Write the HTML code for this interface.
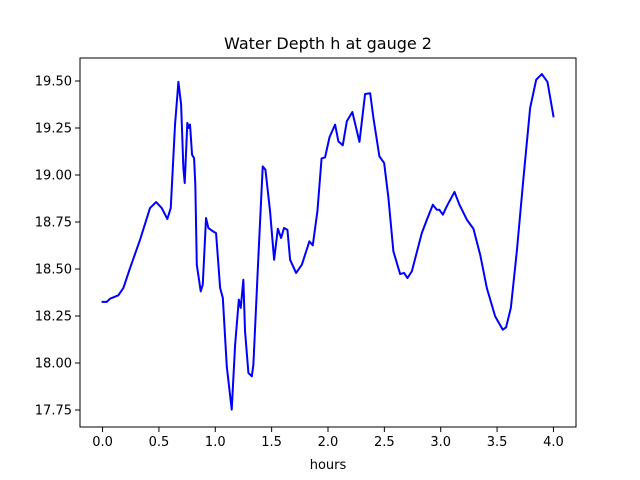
<!DOCTYPE html>
<html><head><meta charset="utf-8"><style>
html,body{margin:0;padding:0;background:#fff;}
svg{display:block;font-family:"DejaVu Sans","Liberation Sans",sans-serif;}
</style></head><body>
<svg id="chart" width="640" height="480" viewBox="0 0 640 480" xmlns="http://www.w3.org/2000/svg">
<rect x="0" y="0" width="640" height="480" fill="#fff"/>
<text x="328" y="49" text-anchor="middle" font-size="16" fill="#000">Water Depth h at gauge 2</text>
<g id="xticks"></g>
<g id="yticks"></g>
<g id="plot"></g>
<rect x="80" y="58" width="496" height="369" fill="none" stroke="#000" stroke-width="1"/>
<text x="328" y="469" text-anchor="middle" font-size="13" fill="#000">hours</text>
</svg>
<script>
const hours = [0.0,0.037,0.067,0.140,0.185,0.244,0.333,0.421,0.475,0.525,0.575,0.605,0.643,0.673,0.697,0.717,0.729,0.752,0.765,0.776,0.794,0.812,0.823,0.836,0.871,0.889,0.918,0.939,0.978,1.007,1.043,1.067,1.102,1.146,1.176,1.209,1.226,1.249,1.264,1.294,1.324,1.338,1.382,1.421,1.445,1.486,1.522,1.555,1.584,1.610,1.640,1.664,1.717,1.768,1.835,1.865,1.906,1.943,1.974,2.014,2.063,2.092,2.131,2.167,2.216,2.279,2.329,2.374,2.403,2.456,2.498,2.536,2.580,2.640,2.675,2.705,2.744,2.832,2.877,2.930,2.965,2.988,3.019,3.054,3.122,3.166,3.232,3.290,3.350,3.409,3.483,3.551,3.580,3.622,3.675,3.734,3.793,3.847,3.897,3.947,4.000];
const depth = [18.325,18.325,18.342,18.360,18.399,18.505,18.656,18.824,18.856,18.824,18.766,18.824,19.268,19.495,19.374,19.037,18.957,19.277,19.250,19.268,19.108,19.090,18.948,18.523,18.381,18.417,18.771,18.718,18.701,18.691,18.399,18.346,17.982,17.752,18.097,18.337,18.293,18.443,18.169,17.947,17.929,17.991,18.559,19.046,19.028,18.807,18.549,18.714,18.665,18.718,18.709,18.549,18.479,18.523,18.647,18.626,18.807,19.088,19.094,19.202,19.268,19.179,19.158,19.286,19.335,19.176,19.431,19.435,19.303,19.099,19.064,18.878,18.594,18.473,18.479,18.452,18.488,18.691,18.762,18.842,18.815,18.815,18.789,18.834,18.910,18.842,18.762,18.714,18.576,18.399,18.248,18.177,18.190,18.293,18.594,18.984,19.356,19.507,19.537,19.495,19.312];
const xTickVals = [0,0.5,1,1.5,2,2.5,3,3.5,4];
const xTickLabels = ["0.0","0.5","1.0","1.5","2.0","2.5","3.0","3.5","4.0"];
const yTickVals = [17.75,18.0,18.25,18.5,18.75,19.0,19.25,19.5];
const yTickLabels = ["17.75","18.00","18.25","18.50","18.75","19.00","19.25","19.50"];

const NS = "http://www.w3.org/2000/svg";
const L=80,R=576,T=58,B=427;
const xMin=-0.2,xMax=4.2,yMin=17.6596,yMax=19.6223;
function sx(v){return L+(v-xMin)/(xMax-xMin)*(R-L);}
function sy(v){return B-(v-yMin)/(yMax-yMin)*(B-T);}
function mk(tag,attrs){const e=document.createElementNS(NS,tag);for(const k in attrs)e.setAttribute(k,attrs[k]);return e;}

const xg=document.getElementById('xticks');
xTickVals.forEach((v,i)=>{
  const t=mk('line',{x1:sx(v),x2:sx(v),y1:B,y2:B+5,stroke:'#000','stroke-width':1});
  
  
  xg.appendChild(t);
  const lb=mk('text',{x:sx(v),y:B+19,'text-anchor':'middle','font-size':13,fill:'#000'});
  
  
  lb.textContent=xTickLabels[i];
  xg.appendChild(lb);
});
const yg=document.getElementById('yticks');
yTickVals.forEach((v,i)=>{
  const t=mk('line',{x1:L-5,x2:L,y1:sy(v),y2:sy(v),stroke:'#000','stroke-width':1});
  
  
  yg.appendChild(t);
  const lb=mk('text',{x:L-8,y:sy(v)+4.5,'text-anchor':'end','font-size':13,fill:'#000'});
  
  
  lb.textContent=yTickLabels[i];
  yg.appendChild(lb);
});
const pts=hours.map((h,i)=>sx(h).toFixed(2)+','+sy(depth[i]).toFixed(2)).join(' ');
const line=mk('polyline',{points:pts,fill:'none',stroke:'#0000ff','stroke-width':2,'stroke-linejoin':'round','stroke-linecap':'square'});


document.getElementById('plot').appendChild(line);
</script>
</body></html>
